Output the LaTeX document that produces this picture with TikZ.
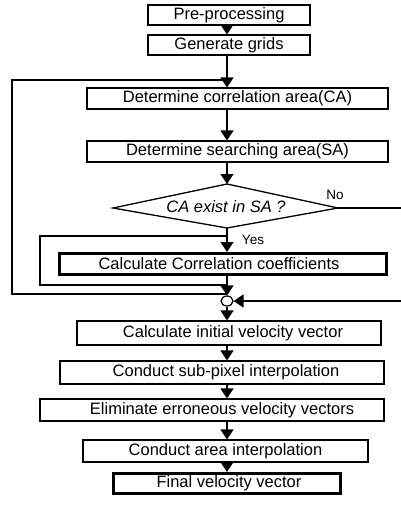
\documentclass[tikz,border=0pt]{standalone}
\usepackage{fontspec}
\setmainfont{Liberation Sans}
\usetikzlibrary{arrows.meta,shapes.geometric}
\begin{document}
\begin{tikzpicture}[x=1pt,y=-1pt,
  box/.style={draw, line width=1.2pt, inner sep=0pt, font=\fontsize{16.5}{18}\selectfont},
  thickbox/.style={box, line width=3pt},
  arr/.style={-{Triangle[width=13pt,length=10pt]}, line width=1.3pt},
  ln/.style={line width=1.3pt},
  lbl/.style={inner sep=0pt, font=\fontsize{13.5}{15}\selectfont}]
\useasboundingbox (0,0) rectangle (401,506);
\coordinate (spine) at (227,0);
% boxes
\node[box, minimum width=162pt, minimum height=20pt] (pre) at (229,15) {Pre-processing};
\node[box, minimum width=162pt, minimum height=20pt] (gen) at (229,45) {Generate grids};
\node[box, minimum width=301pt, minimum height=21pt] (ca) at (237.5,98.5) {Determine correlation area(CA)};
\node[box, minimum width=301pt, minimum height=21pt] (sa) at (237.5,151.5) {Determine searching area(SA)};
% decision
\coordinate (dt) at (227,184);
\coordinate (dr) at (338,208);
\coordinate (db) at (227,228);
\coordinate (dl) at (113,208);
\draw[ln] (dl) -- (dt) -- (dr) -- (db) -- cycle;
\node[inner sep=0pt, font=\fontsize{16.5}{18}\selectfont\itshape] (dec) at (226,207) {CA exist in SA ?};
\node[thickbox, minimum width=327pt, minimum height=21pt] (calc) at (223,264) {\hspace*{-8pt}Calculate Correlation coefficients};
\node[draw, ellipse, line width=1.2pt, inner sep=0pt, minimum width=12pt, minimum height=10pt] (circ) at (227,301) {};
\node[box, minimum width=304pt, minimum height=24pt] (init) at (229,333) {\hspace*{8pt}Calculate initial velocity vector};
\node[box, minimum width=324pt, minimum height=23pt] (sub) at (222,372.5) {\hspace*{8pt}Conduct sub-pixel interpolation};
\node[box, minimum width=344pt, minimum height=22pt] (elim) at (212,410) {\hspace*{20pt}Eliminate erroneous velocity vectors};
\node[box, minimum width=285pt, minimum height=22pt] (area) at (225.5,451) {Conduct area interpolation};
\node[thickbox, minimum width=227pt, minimum height=20pt] (final) at (227,483.5) {\hspace*{4pt}Final velocity vector};
% labels
\node[lbl] (no) at (335,195) {No};
\node[lbl] (yes) at (253,240) {Yes};
% loop corners
\coordinate (o1) at (12,294);
\coordinate (o2) at (12,80);
\coordinate (o3) at (227,80);
\coordinate (i1) at (40,285);
\coordinate (i2) at (40,236);
\coordinate (i3) at (227,236);
\coordinate (noend) at (401,208);
\coordinate (retstart) at (401,301);
% loops
\draw[ln] (o1 -| spine) -- (o1) -- (o2) -- (o3);
\draw[ln] (i1 -| spine) -- (i1) -- (i2) -- (i3);
\draw[ln] (dr) -- (noend);
\draw[arr] (retstart) -- (circ.east);
% main arrows
\draw[arr] (pre.south -| spine) -- (gen.north -| spine);
\draw[arr] (gen.south -| spine) -- (ca.north -| spine);
\draw[arr] (ca.south -| spine) -- (sa.north -| spine);
\draw[arr] (sa.south -| spine) -- (dt);
\draw[arr] (db) -- (calc.north -| spine);
\draw[arr] (calc.south -| spine) -- (circ.north);
\draw[arr] (circ.south) -- (init.north -| spine);
\draw[arr] (init.south -| spine) -- (sub.north -| spine);
\draw[arr] (sub.south -| spine) -- (elim.north -| spine);
\draw[arr] (elim.south -| spine) -- (area.north -| spine);
\draw[arr] (area.south -| spine) -- (final.north -| spine);
\end{tikzpicture}
\end{document}
